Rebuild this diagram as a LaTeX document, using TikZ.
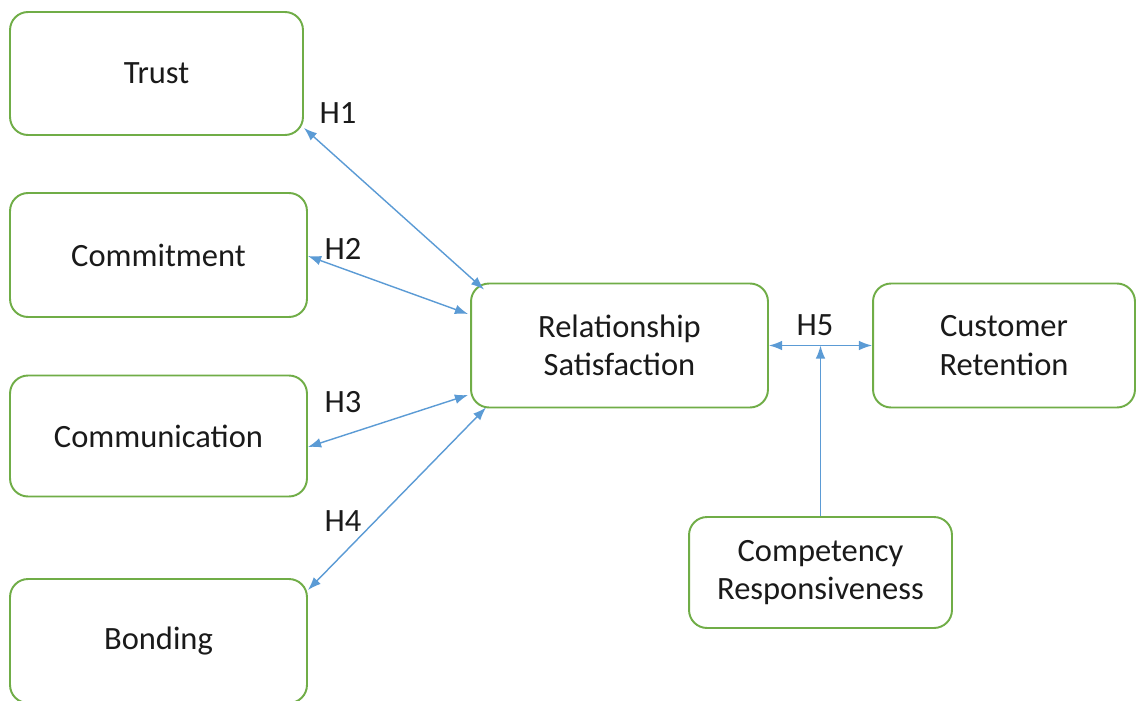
\documentclass[tikz,border=0pt]{standalone}
\usepackage{fontspec}
\setmainfont{Carlito}
\usetikzlibrary{arrows.meta}
\definecolor{boxgreen}{HTML}{70AD47}
\definecolor{arrblue}{HTML}{5B9BD5}
\definecolor{txt}{HTML}{1A1A1A}
\begin{document}
\begin{tikzpicture}[x=0.02cm,y=-0.02cm,
  box/.style={draw=boxgreen,line width=1.1pt,rounded corners=0.36cm,fill=white,
    align=center,text=txt,font=\fontsize{18.5}{21.8}\selectfont,inner sep=0pt},
  link/.style={draw=arrblue,line width=0.8pt,{Latex[length=7.5pt,width=5.5pt]}-{Latex[length=7.5pt,width=5.5pt]}},
  uplink/.style={draw=arrblue,line width=0.8pt,-{Latex[length=7.5pt,width=5.5pt]}},
  hlab/.style={text=txt,font=\fontsize{18.5}{22}\selectfont,inner sep=0pt}]
\useasboundingbox[fill=white] (0,0) rectangle (1136,700);
\node[box,minimum width=5.86cm,minimum height=2.46cm] (trust) at (156.5,73.5) {Trust};
\node[box,minimum width=5.94cm,minimum height=2.48cm] (commit) at (158.5,255) {Commitment};
\node[box,minimum width=5.94cm,minimum height=2.42cm] (comm) at (158.5,436) {Communication};
\node[box,minimum width=5.94cm,minimum height=2.48cm] (bond) at (158.5,641) {Bonding};
\node[box,minimum width=5.94cm,minimum height=2.48cm] (rs) at (619.5,345.5) {Relationship\\Satisfaction};
\node[box,minimum width=5.24cm,minimum height=2.48cm] (cr) at (1004,345.5) {Customer\\Retention};
\node[box,minimum width=5.26cm,minimum height=2.22cm] (comp) at (820.5,572.5) {Competency\\Responsiveness};
\coordinate (mid) at (rs.east -| comp.north);
\draw[link] ([yshift=0.16cm]trust.south east) -- ([xshift=0.28cm,yshift=-0.14cm]rs.north west);
\draw[link] ([yshift=-0.02cm]commit.east) -- ([xshift=-0.04cm,yshift=0.63cm]rs.west);
\draw[link] ([yshift=-0.22cm]comm.east) -- ([xshift=-0.04cm,yshift=-0.99cm]rs.west);
\draw[link] ([yshift=-0.24cm]bond.north east) -- ([xshift=0.32cm,yshift=0.02cm]rs.south west);
\draw[link] (rs.east) -- (cr.west);
\draw[uplink] (comp.north) -- (mid);
\node[hlab] (h1) at (338,113) {H1};
\node[hlab] (h2) at (343,249) {H2};
\node[hlab] (h3) at (343,402) {H3};
\node[hlab] (h4) at (343,521) {H4};
\node[hlab] (h5) at (815,325) {H5};
\end{tikzpicture}
\end{document}
